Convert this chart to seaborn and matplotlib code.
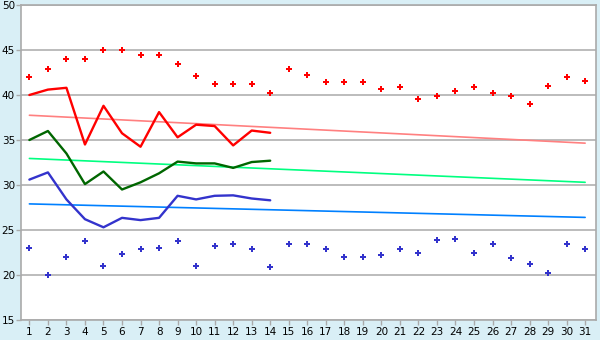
import numpy as np
import pandas as pd
import matplotlib
matplotlib.use("Agg")
import matplotlib.pyplot as plt
import seaborn as sns

days = list(range(1, 32))
max_temps = [42, 42.9, 44, 44, 45, 45, 44.4, 44.4, 43.5, 42.1, 41.2, 41.2, 41.2, 40.2, 42.85,
             42.2, 41.4, 41.4, 41.5, 40.7, 40.85, 39.6, 39.85, 40.5, 40.85, 40.2, 39.85, 38.96,
             40.96, 41.97, 41.6]
min_temps = [23, 20, 22, 23.75, 21, 22.3, 22.85, 23, 23.75, 21, 23.2, 23.4, 22.85, 20.85, 23.4,
             23.4, 22.85, 22, 22, 22.2, 22.85, 22.4, 23.85, 24, 22.4, 23.4, 21.85, 21.2, 20.2,
             23.4, 22.85]
line_days = list(range(1, 15))
red_line = [40, 40.6, 40.8, 34.5, 38.8, 35.75, 34.25, 38.1, 35.3, 36.7, 36.55, 34.4, 36.05, 35.8]
green_line = [35, 36, 33.5, 30.1, 31.5, 29.5, 30.3, 31.3, 32.6, 32.4, 32.4, 31.9, 32.55, 32.7]
blue_line = [30.6, 31.4, 28.4, 26.2, 25.3, 26.35, 26.1, 26.35, 28.8, 28.4, 28.8, 28.85, 28.5, 28.3]
trend_days = [1, 31]
red_trend = [37.75, 34.65]
green_trend = [32.95, 30.3]
blue_trend = [27.9, 26.4]

sns.set_style("white")
plt.rcParams['font.family'] = ['DejaVu Sans']

bg = "#d9eff6"
fig = plt.figure(figsize=(6, 3.4), dpi=100, facecolor=bg)
ax = fig.add_axes([20.5 / 600, 20 / 340, 575 / 600, 315 / 340])
ax.set_facecolor("white")

for y in range(15, 51, 5):
    ax.axhline(y, color="#aaaaaa", lw=1.1, zorder=0)

sns.lineplot(x=trend_days, y=red_trend, color="#ff8080", lw=1.2, ax=ax)
sns.lineplot(x=trend_days, y=green_trend, color="#00ff80", lw=1.2, ax=ax)
sns.lineplot(x=trend_days, y=blue_trend, color="#0080ff", lw=1.2, ax=ax)

sns.lineplot(x=line_days, y=red_line, color="#ff0000", lw=1.7, ax=ax)
sns.lineplot(x=line_days, y=green_line, color="#006600", lw=1.7, ax=ax)
sns.lineplot(x=line_days, y=blue_line, color="#3333cc", lw=1.7, ax=ax)

sns.scatterplot(x=days, y=max_temps, color="#ff0000", marker="P", s=18, linewidth=0, ax=ax)
sns.scatterplot(x=days, y=min_temps, color="#3333cc", marker="P", s=18, linewidth=0, ax=ax)

ax.set_xlim(0.52, 31.56)
ax.set_ylim(15, 50)
ax.set_xticks(days)
ax.set_xticklabels([str(d) for d in days])
ax.set_yticks(range(15, 51, 5))
for s in ax.spines.values():
    s.set_color("#aaaaaa")
    s.set_linewidth(1.2)
ax.tick_params(axis="both", which="both", length=3.5, width=1, color="#aaaaaa",
               labelsize=7.5, labelcolor="#000000", pad=1)
ax.tick_params(axis="x", direction="out", bottom=True, pad=1.5)
ax.tick_params(axis="y", direction="out", left=True, pad=0.5)
ax.set_xlabel("")
ax.set_ylabel("")

fig.savefig("out.png", dpi=100, facecolor=bg)
